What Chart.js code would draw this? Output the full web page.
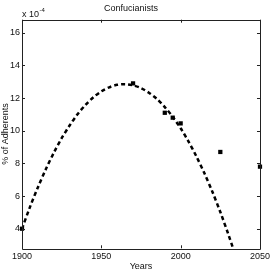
<!DOCTYPE html>
<html>
<head>
<meta charset="utf-8">
<script src="https://cdn.jsdelivr.net/npm/chart.js@4"></script>
<style>
html,body{margin:0;padding:0;background:#fff;}
#wrap{width:273px;height:273px;}
</style>
</head>
<body>
<div id="wrap"><canvas id="c" width="273" height="273"></canvas></div>
<script>
// Values in units of 1e-4 (% of adherents)
const fitYears  = [1900,1905,1910,1915,1920,1925,1930,1935,1940,1945,1950,1955,1960,1965,1970,1975,1980,1985,1990,1995,2000,2005,2010,2015,2020,2025,2030,2033];
const fitValues = [4.00,5.32,6.53,7.64,8.64,9.54,10.32,11.01,11.58,12.05,12.41,12.66,12.81,12.85,12.78,12.61,12.33,11.95,11.45,10.85,10.15,9.33,8.41,7.39,6.26,5.02,3.67,2.81];
const obsYears  = [1900,1970,1990,1995,2000,2025,2050];
const obsValues = [4.0,12.9,11.1,10.8,10.45,8.7,7.8];
const xTicks = [1900,1950,2000,2050];
const yTicks = [4,6,8,10,12,14,16];
const titleText = 'Confucianists';
const xTitle = 'Years';
const yTitle = '% of Adherents';

const FONT = '"Liberation Sans Narrow", "Liberation Sans", Arial, sans-serif';
const TXT = '#111';

const framePlugin = {
  id: 'frame',
  afterDraw(chart) {
    const {ctx, chartArea: {left, right, top, bottom}, scales: {x, y}} = chart;
    ctx.save();
    ctx.strokeStyle = '#222';
    ctx.lineWidth = 1;
    ctx.beginPath();
    ctx.rect(Math.round(left) + 0.5, Math.round(top) + 0.5, Math.round(right - left), Math.round(bottom - top));
    ctx.stroke();
    const tl = 3;
    ctx.beginPath();
    xTicks.forEach(v => {
      const px = Math.round(x.getPixelForValue(v)) + 0.5;
      ctx.moveTo(px, bottom); ctx.lineTo(px, bottom - tl);
      ctx.moveTo(px, top); ctx.lineTo(px, top + tl);
    });
    yTicks.forEach(v => {
      const py = Math.round(y.getPixelForValue(v)) + 0.5;
      ctx.moveTo(left, py); ctx.lineTo(left + tl, py);
      ctx.moveTo(right, py); ctx.lineTo(right - tl, py);
    });
    ctx.stroke();
    // exponent label
    ctx.fillStyle = TXT;
    ctx.textBaseline = 'alphabetic';
    ctx.textAlign = 'left';
    ctx.font = '9px ' + FONT;
    const base = 'x 10';
    ctx.fillText(base, left, top - 3);
    const w = ctx.measureText(base).width;
    ctx.font = '6px ' + FONT;
    ctx.fillText('-4', left + w + 0.5, top - 8);
    ctx.restore();
  }
};

new Chart(document.getElementById('c'), {
  type: 'scatter',
  data: {
    datasets: [
      {
        data: fitYears.map((t, i) => ({x: t, y: fitValues[i]})),
        showLine: true,
        borderColor: '#000',
        borderWidth: 2.5,
        borderDash: [4, 3],
        pointRadius: 0,
        tension: 0.3,
        fill: false
      },
      {
        data: obsYears.map((t, i) => ({x: t, y: obsValues[i]})),
        showLine: false,
        pointStyle: 'rect',
        pointRadius: 3,
        backgroundColor: '#000',
        borderColor: '#000',
        borderWidth: 0,
        clip: false
      }
    ]
  },
  options: {
    responsive: false,
    animation: false,
    devicePixelRatio: 1,
    layout: {padding: {left: 0, right: 11, top: 0, bottom: 0}},
    plugins: {
      legend: {display: false},
      tooltip: {enabled: false},
      title: {
        display: true,
        text: titleText,
        color: TXT,
        font: {family: FONT, size: 9, weight: 'normal', lineHeight: 1.2},
        padding: {top: 3.5, bottom: 5.4}
      }
    },
    scales: {
      x: {
        type: 'linear',
        min: 1900,
        max: 2050,
        afterBuildTicks: s => { s.ticks = xTicks.map(v => ({value: v})); },
        afterFit: s => { s.height = 24.7; },
        grid: {display: false, drawTicks: false},
        border: {display: false},
        ticks: {
          color: TXT,
          font: {family: FONT, size: 9},
          padding: 3,
          maxRotation: 0,
          autoSkip: false,
          callback: v => String(v)
        },
        title: {
          display: true,
          text: xTitle,
          color: TXT,
          font: {family: FONT, size: 9},
          padding: {top: 0, bottom: 0.9}
        }
      },
      y: {
        type: 'linear',
        min: 2.8,
        max: 16.8,
        afterBuildTicks: s => { s.ticks = yTicks.map(v => ({value: v})); },
        afterFit: s => { s.width = 22; },
        grid: {display: false, drawTicks: false},
        border: {display: false},
        ticks: {
          color: TXT,
          font: {family: FONT, size: 9},
          padding: 2,
          autoSkip: false,
          callback: v => String(v)
        },
        title: {
          display: true,
          text: yTitle,
          color: TXT,
          font: {family: FONT, size: 9},
          padding: {top: 0, bottom: 0}
        }
      }
    }
  },
  plugins: [framePlugin]
});
</script>
</body>
</html>
